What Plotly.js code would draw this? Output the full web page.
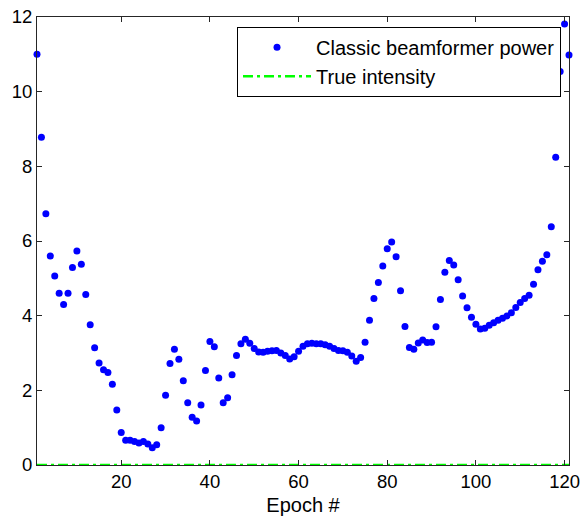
<!DOCTYPE html>
<html>
<head>
<meta charset="utf-8">
<script src="https://cdn.plot.ly/plotly-3.0.1.min.js"></script>
<style>
html,body{margin:0;padding:0;background:#fff;}
#chart{width:584px;height:518px;}
</style>
</head>
<body>
<div id="chart"></div>
<script>
// Epoch index 1..121
const epochs = [
  1,2,3,4,5,6,7,8,9,10,11,12,13,14,15,16,17,18,19,20,
  21,22,23,24,25,26,27,28,29,30,31,32,33,34,35,36,37,38,39,40,
  41,42,43,44,45,46,47,48,49,50,51,52,53,54,55,56,57,58,59,60,
  61,62,63,64,65,66,67,68,69,70,71,72,73,74,75,76,77,78,79,80,
  81,82,83,84,85,86,87,88,89,90,91,92,93,94,95,96,97,98,99,100,
  101,102,103,104,105,106,107,108,109,110,111,112,113,114,115,116,117,118,119,120,
  121
];
// Classic beamformer power
const beamformerPower = [
  11.0, 8.78, 6.73, 5.60, 5.06, 4.60, 4.30, 4.60, 5.29, 5.73,
  5.38, 4.57, 3.76, 3.14, 2.73, 2.55, 2.48, 2.16, 1.47, 0.87,
  0.66, 0.66, 0.63, 0.59, 0.63, 0.56, 0.46, 0.54, 1.00, 1.87,
  2.72, 3.10, 2.83, 2.26, 1.67, 1.28, 1.18, 1.61, 2.53, 3.31,
  3.17, 2.33, 1.67, 1.80, 2.42, 2.93, 3.25, 3.37, 3.26, 3.12,
  3.03, 3.02, 3.05, 3.06, 3.07, 3.00, 2.93, 2.84, 2.90, 3.05,
  3.18, 3.25, 3.26, 3.25, 3.25, 3.22, 3.18, 3.12, 3.07, 3.06,
  3.02, 2.92, 2.78, 2.88, 3.29, 3.88, 4.46, 4.89, 5.33, 5.79,
  5.97, 5.58, 4.67, 3.71, 3.15, 3.10, 3.27, 3.35, 3.28, 3.29,
  3.70, 4.43, 5.16, 5.48, 5.36, 4.96, 4.53, 4.21, 3.96, 3.77,
  3.64, 3.66, 3.74, 3.81, 3.88, 3.93, 3.99, 4.08, 4.22, 4.35,
  4.46, 4.55, 4.84, 5.23, 5.46, 5.63, 6.38, 8.24, 10.54, 11.81,
  10.98
];
// True intensity (zero everywhere)
const trueX = [1, 121];
const trueIntensity = [0, 0];

const xTicks = [20, 40, 60, 80, 100, 120];
const yTicks = [0, 2, 4, 6, 8, 10, 12];

const fontFamily = '"Liberation Sans", Arial, Helvetica, sans-serif';

const traces = [
  {
    x: epochs, y: beamformerPower,
    type: 'scatter', mode: 'markers',
    name: 'Classic beamformer power',
    marker: {color: '#0000ff', size: 7, line: {width: 0}},
    cliponaxis: false
  },
  {
    x: trueX, y: trueIntensity,
    type: 'scatter', mode: 'lines',
    name: 'True intensity',
    line: {color: '#00ff00', width: 2.5, dash: '10px,4px,3px,4px'},
    cliponaxis: false
  }
];

const axisCommon = {
  showgrid: false, zeroline: false,
  showline: true, linecolor: '#262626', linewidth: 1,
  mirror: 'ticks', ticks: 'inside', ticklen: 5, tickwidth: 1, tickcolor: '#262626',
  tickfont: {family: fontFamily, size: 18.5, color: '#000'}
};

const layout = {
  width: 584, height: 518,
  margin: {l: 37, r: 15, t: 17, b: 53},
  paper_bgcolor: '#fff', plot_bgcolor: '#fff',
  font: {family: fontFamily, size: 20, color: '#000'},
  showlegend: true,
  legend: {
    x: 0.985, y: 0.978, xanchor: 'right', yanchor: 'top',
    bgcolor: '#fff', bordercolor: '#000', borderwidth: 1,
    font: {family: fontFamily, size: 20, color: '#000'},
    itemwidth: 68, tracegroupgap: 0
  },
  xaxis: Object.assign({}, axisCommon, {
    range: [1, 121], tickvals: xTicks, ticktext: xTicks.map(String),
    title: {text: 'Epoch #', font: {family: fontFamily, size: 20, color: '#000'}, standoff: 6}
  }),
  yaxis: Object.assign({}, axisCommon, {
    range: [0, 12], tickvals: yTicks, ticktext: yTicks.map(String)
  })
};

Plotly.newPlot('chart', traces, layout, {displayModeBar: false, staticPlot: true});
</script>
</body>
</html>
